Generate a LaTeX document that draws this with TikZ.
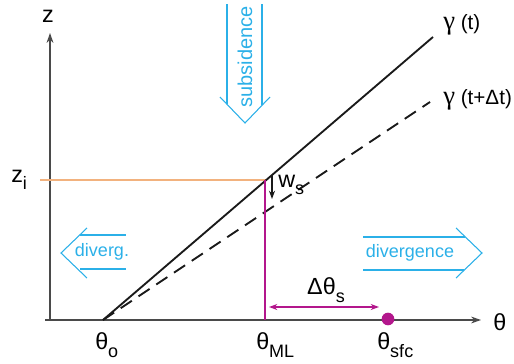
\documentclass[tikz,border=0pt]{standalone}
\usepackage{fontspec}
\setmainfont{Liberation Sans}
\newfontfamily\greekserif{Liberation Serif}
\usepackage{tikz}
\usetikzlibrary{arrows.meta,calc}
\definecolor{ink}{HTML}{1A1A1A}
\definecolor{axisgrey}{HTML}{4A4A4A}
\definecolor{sky}{HTML}{2BB0E8}
\definecolor{plum}{HTML}{B3178C}
\definecolor{peach}{HTML}{F2B27E}
\newcommand{\lsub}[1]{\raisebox{-0.6ex}{\fontsize{13.5}{13.5}\selectfont #1}}
\newcommand{\gam}{{\greekserif\fontsize{20}{20}\selectfont γ}}
\tikzset{
  axis/.style={draw=axisgrey,line width=0.9pt,-{Stealth[length=2.6mm,width=1.8mm]}},
  profile/.style={draw=ink,line width=1.4pt},
  hollow/.style={draw=sky,line width=0.8pt},
  skylbl/.style={text=sky,font=\fontsize{13.5}{15}\selectfont,inner sep=0pt},
  lbl/.style={font=\fontsize{17.5}{20}\selectfont,inner sep=0pt},
  plumflow/.style={draw=plum,line width=0.9pt,{Stealth[length=2.2mm,width=1.6mm]}-{Stealth[length=2.2mm,width=1.6mm]}}}
\begin{document}
\begin{tikzpicture}[x=0.75pt,y=-0.75pt]
  \useasboundingbox (0,0) rectangle (514,364);
  % axes
  \coordinate (orig) at (50,320);
  \coordinate (ztop) at (50,33);
  \coordinate (xleft) at (45,320);
  \coordinate (xright) at (481,320);
  \draw[axis] (orig) -- (ztop);
  \draw[axis] (xleft) -- (xright);
  \node[lbl,anchor=center] (zlab) at (48,16) {z};
  \node[lbl,anchor=west] (thlab) at (493,322) {θ};
  % inversion height
  \coordinate (zil) at (40,180);
  \coordinate (zir) at (266,180);
  \draw[draw=peach,line width=0.9pt] (zil) -- (zir);
  \node[lbl,anchor=west] (zi) at (11,180) {z\lsub{i}};
  % profiles
  \coordinate (tho) at (103,320);
  \coordinate (gt) at (433,37);
  \coordinate (gdt) at (430,102);
  \draw[profile] (tho) -- (gt);
  \draw[profile,dash pattern=on 10pt off 6pt] (tho) -- (gdt);
  \node[lbl,font=\fontsize{15.5}{18}\selectfont,anchor=west] (gtlab) at (443,25) {\gam\ (t)};
  \node[lbl,font=\fontsize{15.5}{18}\selectfont,anchor=west] (gdtlab) at (443,100) {\gam\ (t+Δt)};
  % mixed layer
  \coordinate (mltop) at (265,180);
  \coordinate (mlbot) at (265,320);
  \draw[draw=plum,line width=1.4pt] (mltop) -- (mlbot);
  \coordinate (wsa) at (272,175);
  \coordinate (wsb) at (272,199);
  \draw[draw=ink,line width=0.8pt,-{Stealth[length=2.2mm,width=1.6mm]}] (wsa) -- (wsb);
  \node[lbl,anchor=west] (ws) at (278,185) {w\lsub{s}};
  % surface jump
  \coordinate (dta) at (269,307);
  \coordinate (dtb) at (379,307);
  \draw[plumflow] (dta) -- (dtb);
  \node[lbl,anchor=center] (dth) at (326,290) {Δθ\lsub{s}};
  \node[circle,fill=plum,minimum size=9.5pt,inner sep=0pt] (sfc) at (388,319) {};
  % theta labels
  \node[lbl,anchor=west] (thO) at (95,345) {θ\lsub{o}};
  \node[lbl,anchor=west] (thML) at (256,345) {θ\lsub{ML}};
  \node[lbl,anchor=west] (thS) at (377,345) {θ\lsub{sfc}};
  % subsidence arrow
  \draw[hollow] (227,4) -- (227,104);
  \draw[hollow] (262,4) -- (262,105);
  \draw[hollow] (220,97) -- (245,123) -- (270,97);
  \node[skylbl,font=\fontsize{15}{17}\selectfont,rotate=90] (subs) at (245,57) {subsidence};
  % divergence arrows
  \draw[hollow] (80,235) -- (126,235);
  \draw[hollow] (80,269) -- (126,269);
  \draw[hollow] (87,228) -- (61,253) -- (87,278);
  \node[skylbl] (dvl) at (102,252) {diverg.};
  \draw[hollow] (363,237) -- (465,237);
  \draw[hollow] (363,270) -- (464,270);
  \draw[hollow] (456,228) -- (482,253) -- (456,278);
  \node[skylbl] (dvr) at (410,253) {divergence};
\end{tikzpicture}
\end{document}
